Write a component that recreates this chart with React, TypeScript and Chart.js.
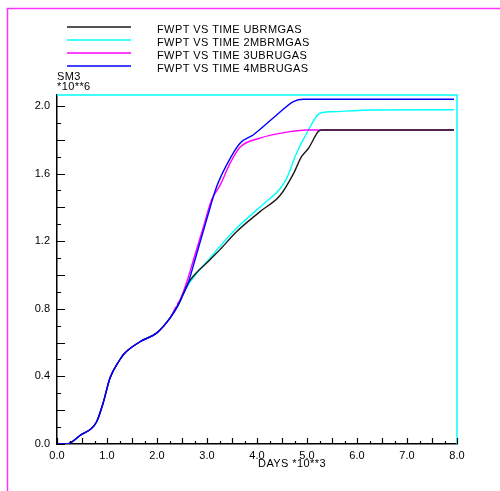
import React, { useEffect, useRef } from 'react';
import { Chart, registerables } from 'chart.js';
Chart.register(...registerables);

const seriesNames = ['FWPT VS TIME UBRMGAS', 'FWPT VS TIME 2MBRMGAS', 'FWPT VS TIME 3UBRUGAS', 'FWPT VS TIME 4MBRUGAS'];
const seriesColors = ['#1a1a1a', '#00ffff', '#ff00ff', '#0000ff'];

// Shared early history (days *10**3, SM3 *10**6)
const sharedDays = [0.0, 0.2, 0.46, 0.79, 0.92, 1.06, 1.26, 1.33, 1.66, 1.99, 2.26, 2.42];
const sharedFwpt = [0.0, 0.0, 0.05, 0.13, 0.24, 0.39, 0.5, 0.53, 0.605, 0.656, 0.745, 0.82];

const ubrmgasDays = [2.53, 2.62, 3.06, 3.26, 3.59, 4.06, 4.46, 4.73, 4.89, 5.03, 5.23, 5.3, 7.94];
const ubrmgasFwpt = [0.89, 0.95, 1.09, 1.15, 1.256, 1.375, 1.47, 1.6, 1.7, 1.75, 1.85, 1.858, 1.858];

const mbrmgas2Days = [2.53, 2.62, 3.06, 3.59, 4.13, 4.46, 4.59, 4.79, 4.96, 5.26, 5.49, 6.33, 7.94];
const mbrmgas2Fwpt = [0.89, 0.94, 1.1, 1.276, 1.42, 1.51, 1.57, 1.72, 1.82, 1.957, 1.966, 1.976, 1.978];

const ubrugas3Days = [2.4, 2.55, 2.73, 2.93, 3.09, 3.26, 3.46, 3.66, 4.06, 4.66, 4.99, 7.94];
const ubrugas3Fwpt = [0.83, 0.92, 1.09, 1.286, 1.444, 1.53, 1.66, 1.756, 1.81, 1.848, 1.858, 1.858];

const mbrugas4Days = [2.53, 2.62, 2.76, 2.99, 3.19, 3.39, 3.66, 3.93, 4.33, 4.73, 4.93, 7.94];
const mbrugas4Fwpt = [0.89, 0.95, 1.09, 1.325, 1.52, 1.65, 1.78, 1.83, 1.93, 2.026, 2.04, 2.04];

const xMin = 0, xMax = 8, yMin = 0, yMax = 2.065;

const toPts = (dx: number[], dy: number[], sx: number[], sy: number[]) =>
  sx.map((x, i) => ({ x, y: sy[i] })).concat(dx.map((x, i) => ({ x, y: dy[i] })));

const FONT = '11px "Liberation Sans", Arial, sans-serif';

const isMult = (v: number, s: number) => Math.abs(v / s - Math.round(v / s)) < 1e-6;

const decorPlugin = {
  id: 'decor',
  beforeDraw(chart: any) {
    const ctx = chart.ctx;
    ctx.save();
    ctx.fillStyle = '#fff';
    ctx.fillRect(0, 0, chart.width, chart.height);
    ctx.strokeStyle = '#ff33ff';
    ctx.lineWidth = 1.5;
    ctx.beginPath();
    ctx.moveTo(7.5, chart.height);
    ctx.lineTo(7.5, 8.5);
    ctx.lineTo(chart.width, 8.5);
    ctx.stroke();
    ctx.restore();
  },
  afterDraw(chart: any) {
    const ctx = chart.ctx;
    const a = chart.chartArea;
    const xs = chart.scales.x;
    const ys = chart.scales.y;
    ctx.save();
    // cyan top/right frame
    ctx.strokeStyle = '#00ffff';
    ctx.lineWidth = 1.5;
    ctx.beginPath();
    ctx.moveTo(a.left, a.top);
    ctx.lineTo(a.right, a.top);
    ctx.lineTo(a.right, a.bottom);
    ctx.stroke();
    // inward ticks
    ctx.strokeStyle = '#000';
    ctx.lineWidth = 1.2;
    ctx.beginPath();
    ys.ticks.forEach((t: any) => {
      const py = Math.round(ys.getPixelForValue(t.value)) + 0.5;
      const len = isMult(t.value, 0.2) ? 8 : 4;
      ctx.moveTo(a.left, py);
      ctx.lineTo(a.left + len, py);
    });
    xs.ticks.forEach((t: any) => {
      const px = Math.round(xs.getPixelForValue(t.value)) + 0.5;
      const len = isMult(t.value, 0.5) ? 6 : 3;
      ctx.moveTo(px, a.bottom);
      ctx.lineTo(px, a.bottom - len);
    });
    ctx.stroke();
    // legend
    ctx.font = FONT;
    ctx.textBaseline = 'middle';
    ctx.textAlign = 'left';
    const rows = [27, 40, 53, 66];
    chart.data.datasets.forEach((ds: any, i: number) => {
      ctx.strokeStyle = ds.borderColor;
      ctx.lineWidth = 1.5;
      ctx.beginPath();
      ctx.moveTo(67, rows[i]);
      ctx.lineTo(131, rows[i]);
      ctx.stroke();
      ctx.fillStyle = '#000';
      (ctx as any).letterSpacing = '0.4px';
      ctx.fillText(ds.label, 157, rows[i] + 2.5);
    });
    // axis titles
    ctx.fillText('SM3', 57, 77);
    ctx.fillText('*10**6', 57, 87);
    ctx.textAlign = 'center';
    ctx.fillText('DAYS *10**3', 292, 464);
    ctx.restore();
  },
};

export default function App() {
  const ref = useRef<HTMLCanvasElement>(null);
  useEffect(() => {
    document.body.style.margin = '0';
    const datasets = [
      { label: seriesNames[0], data: toPts(ubrmgasDays, ubrmgasFwpt, sharedDays, sharedFwpt), borderColor: seriesColors[0], order: 1 },
      { label: seriesNames[1], data: toPts(mbrmgas2Days, mbrmgas2Fwpt, sharedDays, sharedFwpt), borderColor: seriesColors[1], order: 3 },
      { label: seriesNames[2], data: toPts(ubrugas3Days, ubrugas3Fwpt, sharedDays, sharedFwpt), borderColor: seriesColors[2], order: 2 },
      { label: seriesNames[3], data: toPts(mbrugas4Days, mbrugas4Fwpt, sharedDays, sharedFwpt), borderColor: seriesColors[3], order: 0 },
    ].map((d) => ({
      ...d,
      borderWidth: 1.4,
      pointRadius: 0,
      fill: false,
      cubicInterpolationMode: 'monotone' as const,
      tension: 0.3,
    }));
    const chart = new Chart(ref.current!, {
      type: 'line',
      data: { datasets },
      options: {
        animation: false,
        responsive: false,
        parsing: true,
        layout: { padding: { top: 95, right: 43, left: 0, bottom: 0 } },
        plugins: { legend: { display: false }, tooltip: { enabled: false } },
        scales: {
          x: {
            type: 'linear',
            min: xMin,
            max: xMax,
            afterFit: (s: any) => { s.height = 47; },
            border: { display: true, color: '#000', width: 1.5 },
            grid: { drawOnChartArea: false, drawTicks: false },
            ticks: {
              stepSize: 0.25,
              autoSkip: false,
              maxRotation: 0,
              includeBounds: false,
              padding: 5,
              color: '#000',
              font: { family: '"Liberation Sans", Arial, sans-serif', size: 11 },
              callback: (v: any) => (isMult(Number(v), 1) ? Number(v).toFixed(1) : ''),
            },
          },
          y: {
            type: 'linear',
            min: yMin,
            max: yMax,
            afterFit: (s: any) => { s.width = 57; },
            border: { display: true, color: '#000', width: 1.5 },
            grid: { drawOnChartArea: false, drawTicks: false },
            ticks: {
              stepSize: 0.1,
              autoSkip: false,
              includeBounds: false,
              padding: 7,
              color: '#000',
              font: { family: '"Liberation Sans", Arial, sans-serif', size: 11 },
              callback: (v: any) => (isMult(Number(v), 0.4) ? Number(v).toFixed(1) : ''),
            },
          },
        },
      },
      plugins: [decorPlugin],
    });
    return () => chart.destroy();
  }, []);
  return (
    <div style={{ width: 500, height: 491 }}>
      <canvas ref={ref} width={500} height={491} style={{ display: 'block' }} />
    </div>
  );
}
